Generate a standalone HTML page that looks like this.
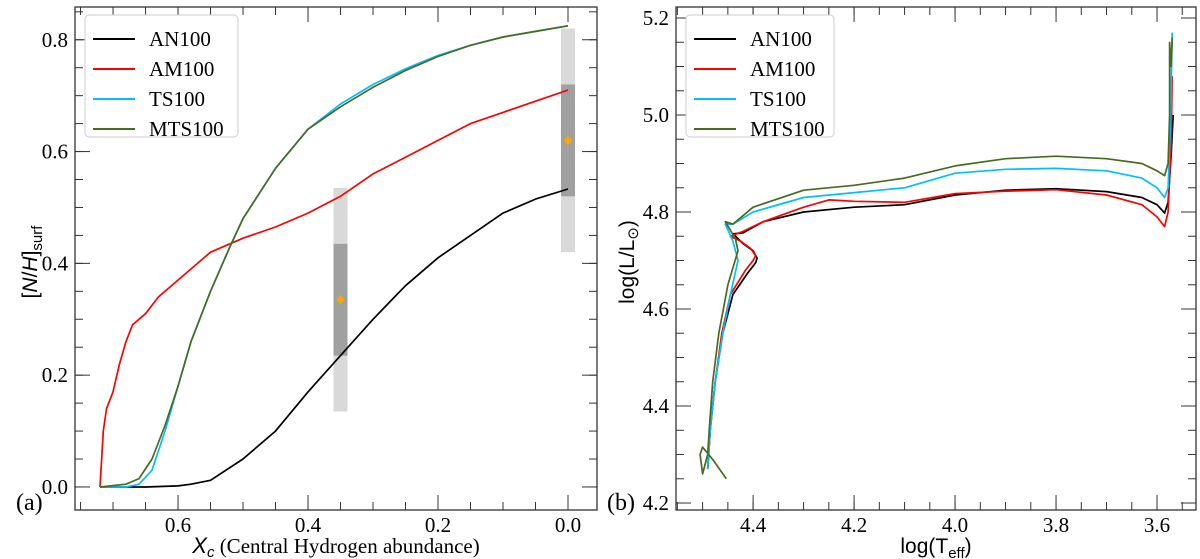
<!DOCTYPE html>
<html><head><meta charset="utf-8"><style>
body{margin:0;background:#fff;}
svg{display:block;}
.tk{font-family:"Liberation Serif",serif;font-size:21px;fill:#000;}
.lg{font-family:"Liberation Serif",serif;font-size:21px;fill:#000;}
.al{font-family:"Liberation Sans",sans-serif;font-size:21px;fill:#000;}
</style></head><body>
<svg id="c" width="1200" height="559" xmlns="http://www.w3.org/2000/svg"></svg>
<script>
// ---- Panel (a) data ----
const anX=[0.72,0.65,0.6,0.58,0.55,0.5,0.45,0.4,0.35,0.3,0.25,0.2,0.15,0.1,0.05,0.0];
const anN=[0,0,0.002,0.005,0.012,0.05,0.10,0.17,0.235,0.30,0.36,0.41,0.45,0.49,0.515,0.533];
const amX=[0.72,0.715,0.71,0.70,0.69,0.68,0.67,0.65,0.63,0.6,0.55,0.5,0.45,0.4,0.35,0.3,0.25,0.2,0.15,0.1,0.05,0.0];
const amN=[0,0.10,0.14,0.17,0.22,0.26,0.29,0.31,0.34,0.37,0.42,0.445,0.465,0.49,0.52,0.56,0.59,0.62,0.65,0.67,0.69,0.71];
const tsX=[0.72,0.68,0.66,0.64,0.62,0.6,0.58,0.55,0.52,0.5,0.45,0.4,0.35,0.3,0.25,0.2,0.15,0.1,0.05,0.0];
const tsN=[0,0,0.005,0.03,0.10,0.18,0.26,0.35,0.43,0.48,0.57,0.64,0.685,0.72,0.748,0.772,0.79,0.805,0.815,0.825];
const mtsX=[0.72,0.68,0.66,0.64,0.62,0.6,0.58,0.55,0.52,0.5,0.45,0.4,0.35,0.3,0.25,0.2,0.15,0.1,0.05,0.0];
const mtsN=[0,0.005,0.015,0.05,0.11,0.18,0.26,0.35,0.43,0.48,0.57,0.64,0.68,0.715,0.745,0.77,0.79,0.805,0.815,0.825];
const obsX=[0.35,0.0];
const obsN=[0.335,0.62];
const obsErr1=[0.1,0.1];
const obsErr2=[0.2,0.2];
// ---- Panel (b) data ----
const hrAnT=[4.49,4.485,4.475,4.46,4.44,4.41,4.395,4.392,4.40,4.42,4.44,4.42,4.38,4.3,4.2,4.1,4.0,3.9,3.8,3.7,3.63,3.6,3.585,3.578,3.572,3.568];
const hrAnL=[4.27,4.35,4.45,4.55,4.63,4.675,4.695,4.705,4.72,4.735,4.755,4.757,4.78,4.80,4.81,4.815,4.835,4.845,4.848,4.842,4.83,4.815,4.798,4.82,4.92,5.0];
const hrAmT=[4.49,4.485,4.475,4.462,4.445,4.415,4.40,4.395,4.405,4.425,4.445,4.42,4.38,4.3,4.25,4.2,4.1,4.0,3.9,3.8,3.7,3.63,3.6,3.585,3.578,3.572,3.57];
const hrAmL=[4.27,4.35,4.45,4.55,4.63,4.68,4.70,4.71,4.725,4.74,4.75,4.76,4.78,4.81,4.825,4.822,4.82,4.838,4.843,4.846,4.835,4.815,4.79,4.77,4.80,4.95,5.08];
const hrTsT=[4.49,4.485,4.475,4.46,4.445,4.43,4.44,4.455,4.44,4.4,4.3,4.2,4.1,4.0,3.9,3.8,3.7,3.63,3.6,3.585,3.578,3.573,3.57];
const hrTsL=[4.27,4.35,4.45,4.55,4.63,4.70,4.74,4.775,4.775,4.80,4.83,4.84,4.85,4.88,4.888,4.89,4.885,4.87,4.85,4.83,4.85,5.0,5.17];
const hrMtsT=[4.453,4.48,4.50,4.505,4.50,4.49,4.487,4.48,4.468,4.45,4.43,4.435,4.455,4.44,4.4,4.3,4.2,4.1,4.0,3.9,3.8,3.7,3.63,3.6,3.585,3.578,3.575,3.575,3.572,3.57];
const hrMtsL=[4.25,4.29,4.315,4.3,4.26,4.30,4.35,4.45,4.55,4.65,4.72,4.745,4.78,4.775,4.81,4.845,4.855,4.87,4.895,4.91,4.915,4.91,4.90,4.885,4.875,4.90,5.0,5.15,5.1,5.16];

const NS='http://www.w3.org/2000/svg';
const svg=document.getElementById('c');
function el(tag,attrs,parent){const e=document.createElementNS(NS,tag);for(const k in attrs)e.setAttribute(k,attrs[k]);(parent||svg).appendChild(e);return e;}

function makeAxis(box,xd,yd){
  const sx=v=>box.x0+(v-xd[0])/(xd[1]-xd[0])*(box.x1-box.x0);
  const sy=v=>box.y1-(v-yd[0])/(yd[1]-yd[0])*(box.y1-box.y0);
  return {sx,sy};
}
function frame(g,box,ax,xt,yt,xmin,ymin){
  el('rect',{x:box.x0,y:box.y0,width:box.x1-box.x0,height:box.y1-box.y0,fill:'none',stroke:'#333','stroke-width':1.3},g);
  xmin.forEach(v=>{const x=ax.sx(v);el('line',{x1:x,x2:x,y1:box.y1,y2:box.y1-8,stroke:'#333'},g);el('line',{x1:x,x2:x,y1:box.y0,y2:box.y0+8,stroke:'#333'},g);});
  ymin.forEach(v=>{const y=ax.sy(v);el('line',{y1:y,y2:y,x1:box.x0,x2:box.x0+8,stroke:'#333'},g);el('line',{y1:y,y2:y,x1:box.x1,x2:box.x1-8,stroke:'#333'},g);});
  xt.forEach(v=>{const x=ax.sx(v);el('line',{x1:x,x2:x,y1:box.y1,y2:box.y1-15,stroke:'#333'},g);el('line',{x1:x,x2:x,y1:box.y0,y2:box.y0+15,stroke:'#333'},g);
    const t=el('text',{x:x,y:box.y1+22,'text-anchor':'middle',class:'tk'},g);t.textContent=v.toFixed(1);
    
    });
  yt.forEach(v=>{const y=ax.sy(v);el('line',{y1:y,y2:y,x1:box.x0,x2:box.x0+15,stroke:'#333'},g);el('line',{y1:y,y2:y,x1:box.x1,x2:box.x1-15,stroke:'#333'},g);
    const t=el('text',{x:box.x0-7,y:y+7,'text-anchor':'end',class:'tk'},g);t.textContent=v.toFixed(1);
    
    });
}
function line(g,ax,xs,ys,color,name){
  const d=xs.map((v,i)=>(i?'L':'M')+ax.sx(v).toFixed(1)+','+ax.sy(ys[i]).toFixed(1)).join(' ');
  const p=el('path',{d:d,fill:'none',stroke:color,'stroke-width':1.7,'stroke-linejoin':'round'},g);
  
  
}
function range(a,b,s){const r=[];for(let v=a;v<=b+1e-9;v+=s)r.push(Math.round(v*1000)/1000);return r;}
function legend(g,x,y,w,h,names,colors){
  el('rect',{x:x,y:y,width:w,height:h,rx:4,fill:'#fff',stroke:'#ccc'},g);
  names.forEach((n,i)=>{const yy=y+24+i*30;
    el('line',{x1:x+8,x2:x+50,y1:yy,y2:yy,stroke:colors[i],'stroke-width':2},g);
    const t=el('text',{x:x+64,y:yy+7,class:'lg'},g);t.textContent=n;
    
    });
}
const colors=['#000','#ff0000','#00bfff','#4a6a1f'];
const names=['AN100','AM100','TS100','MTS100'];

// Panel a
const ga=el('g',{});


const boxA={x0:75,x1:597,y0:7,y1:510};
const axA=makeAxis(boxA,[0.7585,-0.0446],[-0.0412,0.8586]);
obsX.forEach((v,i)=>{const x=axA.sx(v)-7;
  const r1=el('rect',{x:x,y:axA.sy(obsN[i]+obsErr2[i]),width:14,height:axA.sy(obsN[i]-obsErr2[i])-axA.sy(obsN[i]+obsErr2[i]),fill:'#d9d9d9'},ga);
  
  
  const r2=el('rect',{x:x,y:axA.sy(obsN[i]+obsErr1[i]),width:14,height:axA.sy(obsN[i]-obsErr1[i])-axA.sy(obsN[i]+obsErr1[i]),fill:'#a0a0a0'},ga);
  
  
  const cx=axA.sx(v),cy=axA.sy(obsN[i]);
  const dm=el('polygon',{points:`${cx},${cy-5} ${cx+4},${cy} ${cx},${cy+5} ${cx-4},${cy}`,fill:'#ffa500'},ga);
  
  
});
line(ga,axA,anX,anN,colors[0],'an100-line');
line(ga,axA,amX,amN,colors[1],'am100-line');
line(ga,axA,tsX,tsN,colors[2],'ts100-line');
line(ga,axA,mtsX,mtsN,colors[3],'mts100-line');
frame(ga,boxA,axA,[0.6,0.4,0.2,0.0],[0,0.2,0.4,0.6,0.8],range(-0.0,0.75,0.05),range(0,0.85,0.05));
legend(ga,85,15,153,122,names,colors);

// Panel b
const gb=el('g',{});


const boxB={x0:676,x1:1196,y0:7,y1:510};
const axB=makeAxis(boxB,[4.5527,3.5228],[4.1856,5.2227]);
line(gb,axB,hrAnT,hrAnL,colors[0],'an100-track');
line(gb,axB,hrAmT,hrAmL,colors[1],'am100-track');
line(gb,axB,hrTsT,hrTsL,colors[2],'ts100-track');
line(gb,axB,hrMtsT,hrMtsL,colors[3],'mts100-track');
frame(gb,boxB,axB,[4.4,4.2,4.0,3.8,3.6],[4.2,4.4,4.6,4.8,5.0,5.2],range(3.55,4.55,0.05),range(4.2,5.2,0.05));
legend(gb,686,15,148,122,names,colors);
</script>
<svg style="position:absolute;left:0;top:0" width="1200" height="559" xmlns="http://www.w3.org/2000/svg">
<text x="16" y="510" font-family="Liberation Serif" font-size="24">(a)</text>
<text x="607" y="510" font-family="Liberation Serif" font-size="24">(b)</text>
<text transform="translate(37,262) rotate(-90)" text-anchor="middle" class="al">[<tspan font-style="italic">N</tspan>/<tspan font-style="italic">H</tspan>]<tspan font-size="15" dy="5">surf</tspan></text>
<text x="336" y="553" text-anchor="middle"><tspan font-family="Liberation Sans" font-style="italic" font-size="22">X</tspan><tspan font-family="Liberation Sans" font-style="italic" font-size="15" dy="4">c</tspan><tspan font-family="Liberation Serif" font-size="21" dy="-4"> (Central Hydrogen abundance)</tspan></text>
<text transform="translate(634,262) rotate(-90)" text-anchor="middle" class="al">log(L/L<tspan font-size="15" dy="4">⊙</tspan><tspan dy="-4">)</tspan></text>
<text x="936" y="553" text-anchor="middle" class="al">log(T<tspan font-size="15" dy="5">eff</tspan><tspan dy="-5">)</tspan></text>
</svg>
</body></html>
